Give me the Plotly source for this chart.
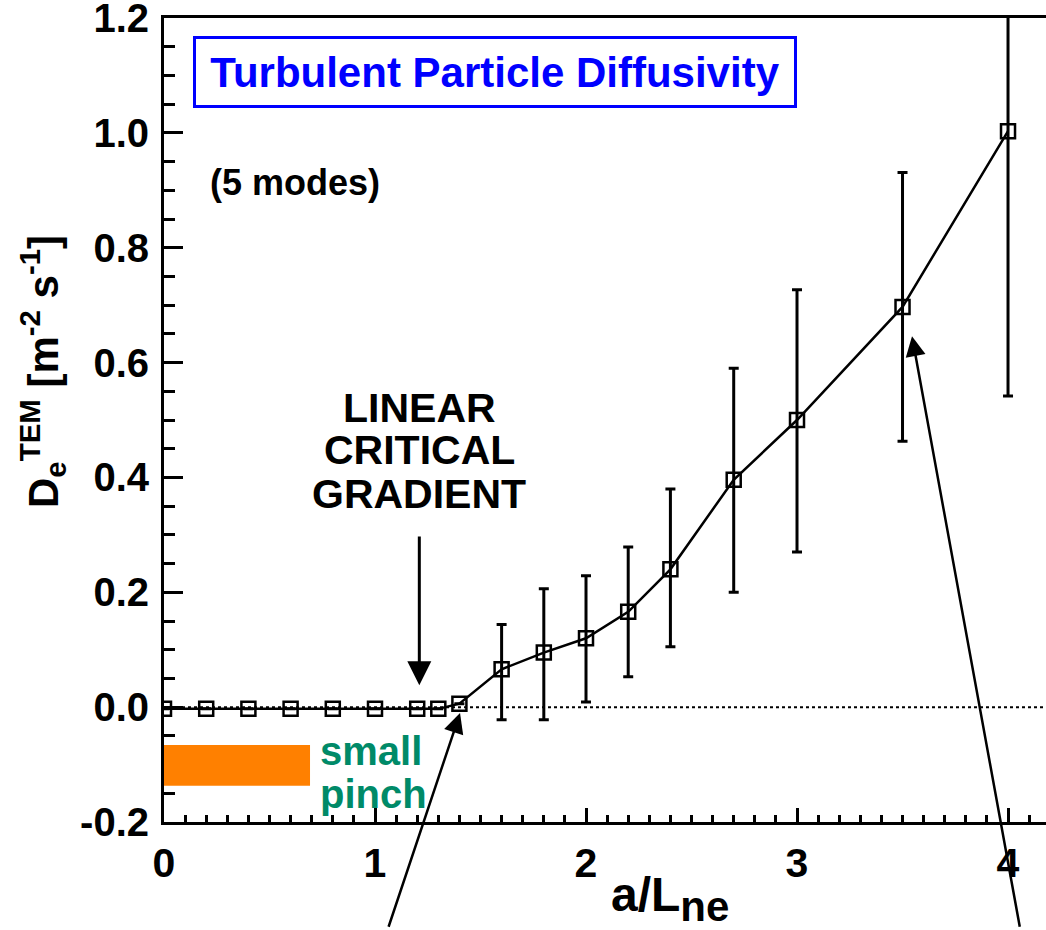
import plotly.graph_objects as go

# ---- data ----
a_over_Lne = [0, 0.2, 0.4, 0.6, 0.8, 1.0, 1.2, 1.3, 1.4, 1.6, 1.8, 2.0, 2.2, 2.4, 2.7, 3.0, 3.5, 4.0]
D_e = [-0.003, -0.003, -0.003, -0.003, -0.003, -0.003, -0.003, -0.003, 0.006,
       0.066, 0.095, 0.120, 0.166, 0.240, 0.396, 0.500, 0.697, 1.003]
err_plus = [0, 0, 0, 0, 0, 0, 0, 0, 0,
            0.078, 0.111, 0.109, 0.113, 0.140, 0.194, 0.227, 0.234, 0.460]
err_minus = [0, 0, 0, 0, 0, 0, 0, 0, 0,
             0.088, 0.117, 0.111, 0.113, 0.135, 0.196, 0.230, 0.234, 0.461]

x_tickvals = [0, 1, 2, 3, 4]
x_ticktext = ["0", "1", "2", "3", "4"]
y_tickvals = [-0.2, 0.0, 0.2, 0.4, 0.6, 0.8, 1.0, 1.2]
y_ticktext = ["-0.2", "0.0", "0.2", "0.4", "0.6", "0.8", "1.0", "1.2"]

FONT = "Liberation Sans, Arial, sans-serif"

fig = go.Figure()

fig.add_trace(go.Scatter(
    x=a_over_Lne, y=D_e,
    mode="lines+markers",
    line=dict(color="black", width=2.5),
    marker=dict(symbol="square-open", size=14, color="black", line=dict(width=2.5, color="black")),
    error_y=dict(type="data", symmetric=False, array=err_plus, arrayminus=err_minus,
                 color="black", thickness=3, width=5),
    showlegend=False,
))

# dotted zero line
fig.add_shape(type="line", xref="x", yref="y", x0=0, x1=4.18, y0=0, y1=0,
              line=dict(color="black", width=2, dash="dot"), layer="below")
# orange "small pinch" bar
fig.add_shape(type="rect", xref="x", yref="y", x0=0, x1=0.692, y0=-0.137, y1=-0.066,
              fillcolor="#ff8000", line=dict(width=0), layer="above")

ann = []
# title box
ann.append(dict(xref="paper", yref="paper", x=0.3753, y=0.9328, xanchor="center", yanchor="middle",
                text="Turbulent Particle Diffusivity", showarrow=False,
                font=dict(family=FONT, size=42, color="#0000ff", weight="bold"),
                bordercolor="#0000ff", borderwidth=3, borderpad=0, width=598, height=66))
ann.append(dict(xref="x", yref="y", x=0.21, y=0.913, xanchor="left", yanchor="middle",
                text="(5 modes)", showarrow=False,
                font=dict(family=FONT, size=36, color="black", weight="bold")))
# linear critical gradient text
for txt, yy in [("LINEAR", 0.521), ("CRITICAL", 0.447), ("GRADIENT", 0.372)]:
    ann.append(dict(xref="x", yref="y", x=1.21, y=yy, xanchor="center", yanchor="middle",
                    text=txt, showarrow=False,
                    font=dict(family=FONT, size=41, color="black", weight="bold")))
# small pinch
for txt, yy in [("small", -0.076), ("pinch", -0.152)]:
    ann.append(dict(xref="x", yref="y", x=0.73, y=yy, xanchor="left", yanchor="middle",
                    text=txt, showarrow=False,
                    font=dict(family=FONT, size=40, color="#008a68", weight="bold")))
# arrows
ann.append(dict(xref="x", yref="y", x=1.21, y=0.038, axref="x", ayref="y", ax=1.21, ay=0.30,
                text="", showarrow=True, arrowhead=2, arrowsize=1.6, arrowwidth=3,
                arrowcolor="black", standoff=0))
ann.append(dict(xref="x", yref="y", x=1.403, y=-0.0104, axref="x", ayref="y", ax=1.062, ay=-0.385,
                text="", showarrow=True, arrowhead=2, arrowsize=1.6, arrowwidth=2.5,
                arrowcolor="black", standoff=0))
ann.append(dict(xref="x", yref="y", x=3.545, y=0.646, axref="x", ayref="y", ax=4.057, ay=-0.385,
                text="", showarrow=True, arrowhead=2, arrowsize=1.6, arrowwidth=2.5,
                arrowcolor="black", standoff=0))
# axis titles
ann.append(dict(xref="paper", yref="paper", x=-0.1383, y=0.5597, xanchor="center", yanchor="middle",
                textangle=-90, showarrow=False,
                text="D<sub>e</sub><sup>TEM</sup> [m<sup>-2</sup> s<sup>-1</sup>]",
                font=dict(family=FONT, size=42, color="black", weight="bold")))
ann.append(dict(xref="paper", yref="paper", x=0.5737, y=-0.055, xanchor="center", yanchor="top",
                showarrow=False,
                text="a/L<sub><span style='font-size:42px'>ne</span></sub>",
                font=dict(family=FONT, size=48, color="black", weight="bold")))

fig.update_layout(
    width=1046, height=930,
    margin=dict(l=164, r=0, t=18, b=108),
    plot_bgcolor="white", paper_bgcolor="white",
    annotations=ann,
    xaxis=dict(range=[0, 4.18], tickmode="array", tickvals=x_tickvals, ticktext=x_ticktext,
               ticks="inside", ticklen=14, tickwidth=3, tickcolor="black",
               minor=dict(ticks="inside", tick0=0, dtick=0.1, ticklen=7, tickwidth=3, tickcolor="black"),
               showline=True, linecolor="black", linewidth=3, mirror=True, automargin=False,
               showgrid=False, zeroline=False, ticklabelstandoff=3,
               tickfont=dict(family=FONT, size=41, color="black", weight="bold")),
    yaxis=dict(range=[-0.2, 1.2001], tickmode="array", tickvals=y_tickvals, ticktext=y_ticktext,
               ticks="inside", ticklen=19, tickwidth=3, tickcolor="black",
               minor=dict(ticks="inside", tick0=0, dtick=0.05, ticklen=11, tickwidth=3, tickcolor="black"),
               showline=True, linecolor="black", linewidth=3, automargin=False,
               showgrid=False, zeroline=False, ticklabelstandoff=4, ticklabeloverflow="allow",
               tickfont=dict(family=FONT, size=40, color="black", weight="bold")),
)

fig.write_html("out.html")
